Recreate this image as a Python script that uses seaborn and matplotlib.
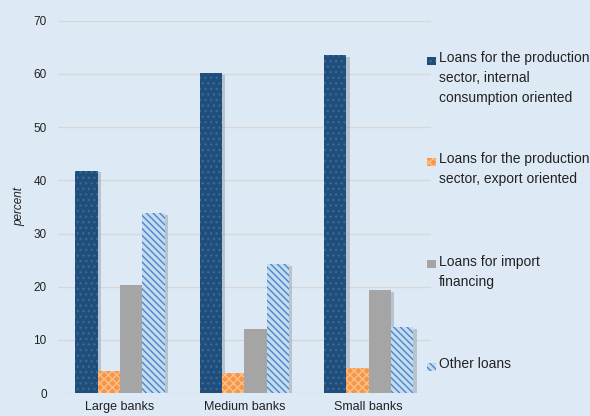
import matplotlib
matplotlib.use("Agg")
import matplotlib.pyplot as plt
import matplotlib.transforms as mtransforms
from matplotlib.patches import Rectangle
import seaborn as sns
import pandas as pd

categories = ["Large banks", "Medium banks", "Small banks"]
series = ["Loans for the production\nsector, internal\nconsumption oriented",
          "Loans for the production\nsector, export oriented",
          "Loans for import\nfinancing",
          "Other loans"]
internal = [41.8, 60.2, 63.6]
export = [4.1, 3.7, 4.7]
imports = [20.3, 12.0, 19.4]
other = [33.8, 24.3, 12.4]
yticks = [0, 10, 20, 30, 40, 50, 60, 70]

rows = []
for s, vals in zip(series, [internal, export, imports, other]):
    for c, v in zip(categories, vals):
        rows.append({"bank": c, "series": s, "value": v})
df = pd.DataFrame(rows)

sns.set_theme(style="white")
plt.rcParams['font.family'] = ['Liberation Sans Narrow', 'Liberation Sans', 'DejaVu Sans']
plt.rcParams['hatch.linewidth'] = 1.0

bg = "#DDEAF5"
faces = ["#1F4E79", "#F79646", "#A5A5A5", "#C5DCF0"]
hatchcols = ["#3668A0", "#FBC08E", "#A5A5A5", "#4A86C8"]
hatches = ["...", "xxxx", None, "\\\\\\\\\\"]

fig = plt.figure(figsize=(5.9, 4.16), dpi=100, facecolor=bg)
ax = fig.add_axes([0.098, 0.055, 0.632, 0.895])
ax.set_facecolor(bg)

sns.barplot(data=df, x="bank", y="value", hue="series", hue_order=series,
            order=categories, palette=faces, width=0.72, gap=0, ax=ax,
            legend=False, saturation=1)

shadow_tr = ax.transData + mtransforms.ScaledTranslation(2.5 / 72, -1.2 / 72, fig.dpi_scale_trans)
for i, cont in enumerate(ax.containers):
    for p in cont:
        p.set_facecolor(faces[i])
        p.set_edgecolor(hatchcols[i])
        p.set_linewidth(0)
        p.set_zorder(3)
        if hatches[i]:
            p.set_hatch(hatches[i])
        sh = Rectangle((p.get_x(), p.get_y()), p.get_width(), p.get_height(),
                       transform=shadow_tr, facecolor="#8A97A5", alpha=0.45,
                       linewidth=0, zorder=2)
        ax.add_patch(sh)

ax.set_ylim(0, 70)
ax.set_xlim(-0.5, 2.5)
ax.set_yticks(yticks)
ax.set_yticklabels([str(t) for t in yticks], fontsize=8.5, color="#222222")
ax.tick_params(axis="x", labelsize=9, colors="#222222", length=0, pad=6)
ax.tick_params(axis="y", length=0, pad=8)
ax.grid(axis="y", color="#D8D6D8", linewidth=1)
ax.set_axisbelow(True)
for s in ax.spines.values():
    s.set_visible(False)
ax.set_xlabel("")
ax.set_ylabel("percent", fontsize=8.5, style="italic", color="#222222", labelpad=6)

# legend drawn manually to keep handles aligned to first text line
ys = [0.855, 0.612, 0.366, 0.120]
for i, (lab, y) in enumerate(zip(series, ys)):
    r = Rectangle((0.724, y - 0.011), 0.0145, 0.019, transform=fig.transFigure,
                  facecolor=faces[i], edgecolor=hatchcols[i], linewidth=0,
                  hatch=hatches[i])
    fig.patches.append(r)
    fig.text(0.744, y + 0.022, lab, fontsize=10, va="top", ha="left",
             color="#222222", linespacing=1.55)

fig.savefig("out.png", dpi=100, facecolor=bg)
